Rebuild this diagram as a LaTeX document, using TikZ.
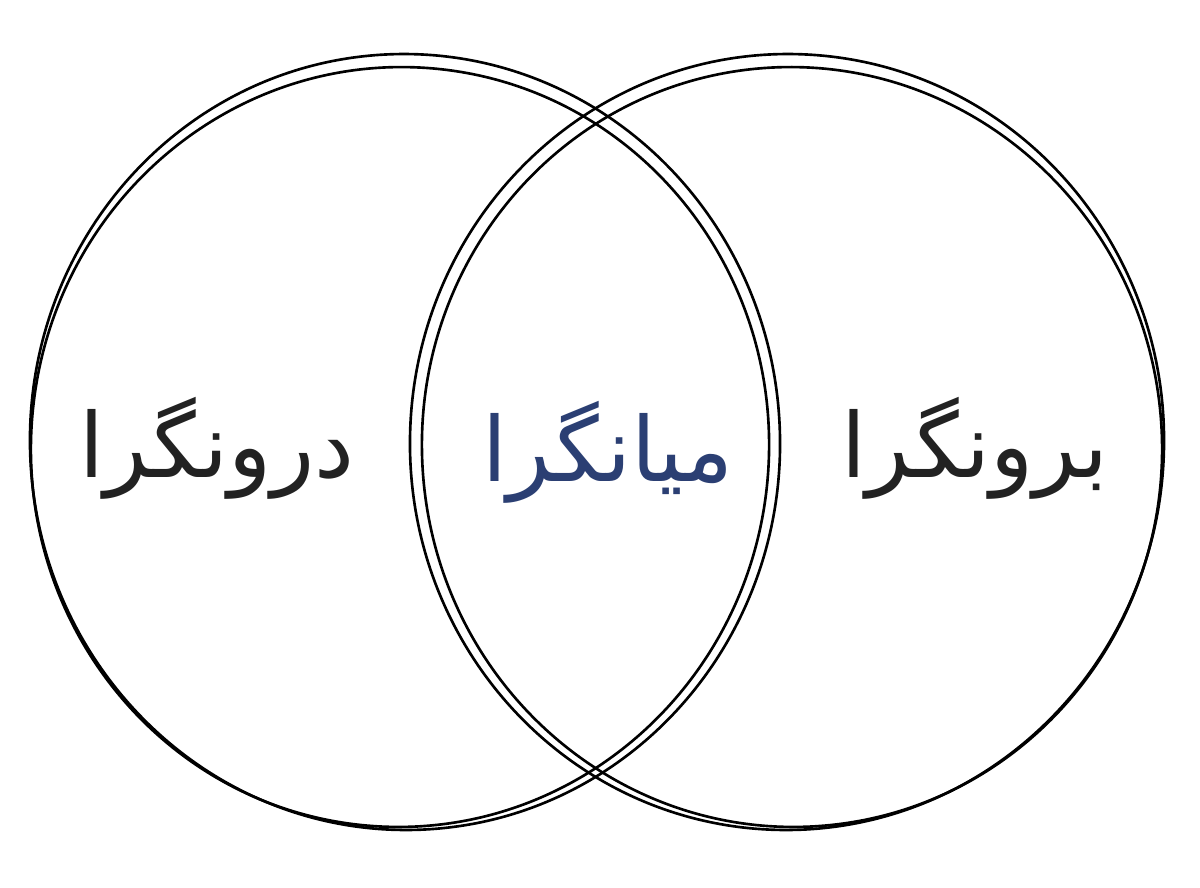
\documentclass[tikz,border=0pt]{standalone}
\usepackage{fontspec}
\usepackage{tikz}
\TeXXeTstate=1
\newfontfamily\arabicfont[Script=Arabic]{DejaVu Sans}
\definecolor{navy}{HTML}{2B3F73}
\definecolor{ink}{HTML}{222222}

\begin{document}
\begin{tikzpicture}[x=0.02cm,y=-0.02cm,
    sketch/.style={draw=black,line width=1.5pt},
    word/.style={font=\arabicfont\fontsize{51}{62}\selectfont,inner sep=0pt,text=ink}]
      \useasboundingbox[fill=white] (0,0) rectangle (1200,887);
      % left circle, drawn twice
      \draw[sketch] (405,442) ellipse [x radius=375,y radius=388,rotate=3];
      \draw[sketch] (400,447) ellipse [x radius=369,y radius=380,rotate=-5];
      % right circle, drawn twice
      \draw[sketch] (787,442) ellipse [x radius=377,y radius=388,rotate=-3];
      \draw[sketch] (792,447) ellipse [x radius=370,y radius=380,rotate=5];

      \node[word] (intro) at (217,448) {\beginR درونگرا\endR};
      \node[word,text=navy] (ambi) at (608,452) {\beginR میانگرا\endR};
      \node[word] (extro) at (975,448) {\beginR برونگرا\endR};
    \end{tikzpicture}
\end{document}
